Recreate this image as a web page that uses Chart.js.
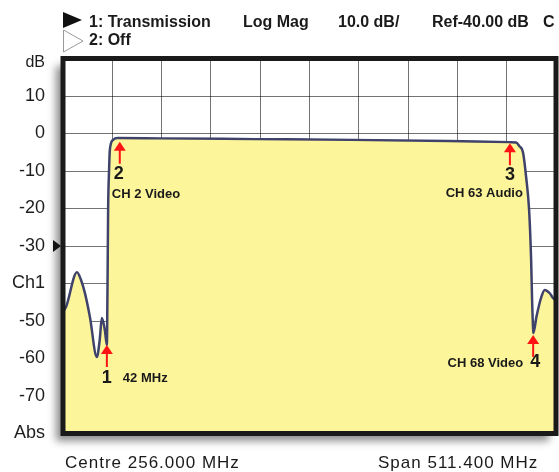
<!DOCTYPE html>
<html lang="en">
<head>
  <meta charset="UTF-8" />
  <title>Transmission - Log Mag</title>
  <script src="https://cdn.jsdelivr.net/npm/chart.js"></script>
  <style>
    html, body { margin: 0; padding: 0; background: #fff; }
    #wrap { width: 559px; height: 472px; }
  </style>
</head>
<body>
  <div id="wrap"><canvas id="trace" width="559" height="472"></canvas></div>

  <script>
    // sweep: 0.3 .. 511.7 MHz (centre 256.000, span 511.400), 10 divisions
    const startMHz = 0.3;
    const stopMHz = 511.7;

    // trace 1 (transmission)
    const freqMHz = [0.3, 3.4, 14.8, 18.9, 23.0, 28.2, 35.4, 38.4, 40.6, 43.7, 45.8,
      46.5, 47.1, 48.1, 48.9, 52.3, 57.1, 100, 200, 300, 400, 464, 470.4, 473.5,
      477.6, 480.7, 483.8, 485.9, 486.9, 488.0, 488.3, 491.4, 496.6, 500.0, 505.2, 508.7, 511.7];
    const magDb = [-47.5, -46.3, -37.0, -39.0, -42.5, -48.9, -59.6, -55.0, -49.2, -52.4, -56.4,
      -40.0, -20.4, -9.7, -4.4, -1.7, -1.2, -1.3, -1.5, -1.7, -2.0, -2.3, -2.4, -3.3,
      -5.2, -11.6, -20.4, -33.7, -44.4, -52.4, -53.2, -48.9, -43.5, -41.7, -42.6, -43.9, -44.5];

    // y axis: 10 dB/div, Ref -40 dB
    const yTicks = [20, 10, 0, -10, -20, -30, -40, -50, -60, -70, -80];
    const yTickText = { "20": "dB", "-40": "Ch1", "-80": "Abs" };

    // markers
    const markerFreq = [45.8, 59.2, 463.9, 488.0];
    const markerDb = [-56.4, -2.2, -2.6, -53.7];
    const markerNum = ["1", "2", "3", "4"];
    const markerText = ["42 MHz", "CH 2 Video", "CH 63 Audio", "CH 68 Video"];

    const FONT = "'Liberation Sans', Arial, Helvetica, sans-serif";
    Chart.defaults.font.family = FONT;

    // label placement per marker, relative to the arrow tip
    const markerLayout = [
      { num: [0, 38, "center"], txt: [16, 37, "left"] },
      { num: [-1, 37, "center"], txt: [-8, 56, "left"] },
      { num: [0, 37, "center"], txt: [13, 54, "right"] },
      { num: [2, 32, "center"], txt: [-10, 32, "right"] }
    ];

    const screenDeco = {
      id: "screenDeco",
      beforeDraw(chart) {
        const { ctx, chartArea: a } = chart;
        ctx.save();
        ctx.shadowColor = "rgba(0,0,0,0.45)";
        ctx.shadowBlur = 8;
        ctx.shadowOffsetX = -7;
        ctx.shadowOffsetY = 7;
        ctx.fillStyle = "#fff";
        ctx.fillRect(a.left, a.top, a.right - a.left, a.bottom - a.top);
        ctx.restore();
      },
      afterDraw(chart) {
        const { ctx, chartArea: a, scales } = chart;
        ctx.save();

        // frame
        ctx.strokeStyle = "#1a1a1a";
        ctx.lineWidth = 5;
        ctx.strokeRect(a.left, a.top, a.right - a.left, a.bottom - a.top);

        // reference level pointer
        const ry = scales.y.getPixelForValue(-30);
        ctx.fillStyle = "#111";
        ctx.beginPath();
        ctx.moveTo(53, ry - 6);
        ctx.lineTo(53, ry + 6);
        ctx.lineTo(61, ry);
        ctx.closePath();
        ctx.fill();

        // markers
        markerFreq.forEach((f, i) => {
          const px = scales.x.getPixelForValue(f);
          const py = scales.y.getPixelForValue(markerDb[i]);
          ctx.fillStyle = "#ff1414";
          ctx.beginPath();
          ctx.moveTo(px, py);
          ctx.lineTo(px - 6, py + 9);
          ctx.lineTo(px + 6, py + 9);
          ctx.closePath();
          ctx.fill();
          ctx.fillRect(px - 1, py + 8, 2, 14);

          const lay = markerLayout[i];
          ctx.fillStyle = "#1a1a1a";
          ctx.textBaseline = "alphabetic";
          ctx.font = "bold 18px " + FONT;
          ctx.textAlign = lay.num[2];
          ctx.fillText(markerNum[i], px + lay.num[0], py + lay.num[1]);
          ctx.font = "bold 13px " + FONT;
          ctx.textAlign = lay.txt[2];
          ctx.fillText(markerText[i], px + lay.txt[0], py + lay.txt[1]);
        });

        // header lines
        ctx.fillStyle = "#111";
        ctx.beginPath();
        ctx.moveTo(63, 12);
        ctx.lineTo(63, 28);
        ctx.lineTo(82, 20);
        ctx.closePath();
        ctx.fill();
        ctx.strokeStyle = "#9a9a9a";
        ctx.lineWidth = 1;
        ctx.beginPath();
        ctx.moveTo(63.5, 30);
        ctx.lineTo(63.5, 52);
        ctx.lineTo(83, 41);
        ctx.closePath();
        ctx.stroke();

        ctx.font = "bold 16px " + FONT;
        ctx.textAlign = "left";
        ctx.fillStyle = "#1a1a1a";
        ctx.fillText("1: Transmission", 89, 27);
        ctx.fillText("Log Mag", 243, 27);
        ctx.fillText("10.0 dB/", 338, 27);
        ctx.fillText("Ref-40.00 dB", 432, 27);
        ctx.fillText("C", 543, 27);
        ctx.fillText("2: Off", 89, 45);

        // footer
        ctx.font = "17px " + FONT;
        ctx.letterSpacing = "1px";
        ctx.fillText("Centre 256.000 MHz", 65, 468);
        ctx.fillText("Span 511.400 MHz", 378, 468);
        ctx.restore();
      }
    };

    new Chart(document.getElementById("trace"), {
      type: "line",
      data: {
        datasets: [{
          label: "1: Transmission",
          data: freqMHz.map((f, i) => ({ x: f, y: magDb[i] })),
          borderColor: "#3f426b",
          borderWidth: 2.5,
          backgroundColor: "#fdf59a",
          fill: "start",
          pointRadius: 0,
          cubicInterpolationMode: "monotone"
        }]
      },
      options: {
        responsive: false,
        animation: false,
        devicePixelRatio: 1,
        layout: { padding: { top: 58.5, right: 3, bottom: 38.5, left: 0 } },
        plugins: { legend: { display: false }, tooltip: { enabled: false } },
        scales: {
          x: {
            type: "linear",
            min: startMHz,
            max: stopMHz,
            z: 1,
            afterBuildTicks: s => {
              s.ticks = [];
              for (let i = 0; i <= 10; i++) s.ticks.push({ value: startMHz + i * (stopMHz - startMHz) / 10 });
            },
            afterFit: s => { s.height = 0; },
            ticks: { display: false },
            border: { display: false },
            grid: { color: "rgba(0,0,0,0.55)", lineWidth: 1, drawTicks: false }
          },
          y: {
            min: -80,
            max: 20,
            z: 1,
            afterBuildTicks: s => { s.ticks = yTicks.map(v => ({ value: v })); },
            afterFit: s => { s.width = 63; },
            border: { display: false },
            grid: { color: "rgba(0,0,0,0.55)", lineWidth: 1, drawTicks: false },
            ticks: {
              padding: 18,
              color: "#1e1e1e",
              font: c => (c.tick && c.tick.value === 20)
                ? { size: 16, lineHeight: "9px" }
                : { size: 18 },
              callback: v => v === 20 ? ["", "dB"] : (yTickText[String(v)] || String(v))
            }
          }
        }
      },
      plugins: [screenDeco]
    });
  </script>
</body>
</html>
